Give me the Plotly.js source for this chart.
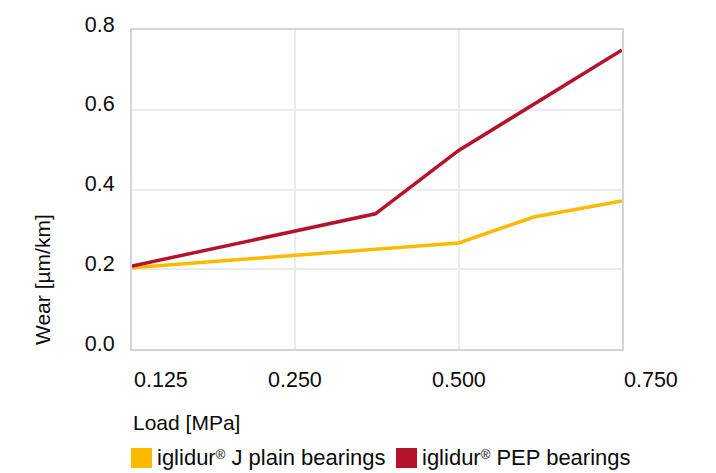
<!DOCTYPE html>
<html>
<head>
<meta charset="utf-8">
<script src="https://cdn.plot.ly/plotly-3.0.1.min.js"></script>
<style>html,body{margin:0;padding:0;background:#fff;}#chart{width:716px;height:473px;}</style>
</head>
<body>
<div id="chart"></div>
<script>
// ---- data ----
const xTickLabels = ['0.125', '0.250', '0.500', '0.750'];
const seriesNames = ['iglidur® J plain bearings', 'iglidur® PEP bearings'];
const jX = [0, 2, 2.46, 3];
const jWear = [0.204, 0.266, 0.331, 0.371];
const pepX = [0, 1.49, 2, 3];
const pepWear = [0.208, 0.339, 0.498, 0.75];
const yTicks = [0, 0.2, 0.4, 0.6, 0.8];

// ---- styling ----
const colJ = '#FBBA00';
const colPEP = '#B5132B';
const font = 'Liberation Sans, Arial, Helvetica, sans-serif';
const txt = '#0a0a0a';
const W = 716, H = 473;
const L = 132, R = 622, T = 30, B = 349;
const pw = R - L, ph = B - T;
const px = v => (v - L) / pw;
const py = v => (B - v) / ph;
const fmtName = s => s.replace('®', '<span style="font-size:13px;baseline-shift:6px">®</span>');

const traces = [
  {x: jX, y: jWear, name: seriesNames[0], mode: 'lines', line: {color: colJ, width: 3.5}, showlegend: false, cliponaxis: false},
  {x: pepX, y: pepWear, name: seriesNames[1], mode: 'lines', line: {color: colPEP, width: 3.5}, showlegend: false, cliponaxis: false}
];

const labelShift = [29, 0, 0, 29];
const annotations = xTickLabels.map((t, i) => ({
  x: i, y: 0, xref: 'x', yref: 'y', text: t, showarrow: false,
  xanchor: 'center', yanchor: 'middle', xshift: labelShift[i], yshift: -31,
  font: {family: font, size: 21.5, color: txt}
}));
annotations.push({
  x: px(131), y: py(422), xref: 'paper', yref: 'paper', text: 'Load [MPa]', showarrow: false,
  xanchor: 'left', yanchor: 'middle', font: {family: font, size: 21, color: txt}
});
annotations.push({
  x: px(42), y: py(280), xref: 'paper', yref: 'paper', text: 'Wear [µm/km]', showarrow: false,
  textangle: -90, xanchor: 'center', yanchor: 'middle', font: {family: font, size: 21, color: txt}
});
// legend
const legendItems = [
  {color: colJ, sq: 131, tx: 155},
  {color: colPEP, sq: 396, tx: 420}
];
const shapes = [];
legendItems.forEach((it, i) => {
  shapes.push({type: 'rect', xref: 'paper', yref: 'paper', x0: px(it.sq), x1: px(it.sq + 21), y0: py(468), y1: py(448),
    fillcolor: it.color, line: {width: 0}});
  annotations.push({x: px(it.tx), y: py(458), xref: 'paper', yref: 'paper', text: fmtName(seriesNames[i]), showarrow: false,
    xanchor: 'left', yanchor: 'middle', font: {family: font, size: 22, color: txt}});
});

const layout = {
  width: W, height: H,
  margin: {l: L, r: W - R, t: T, b: H - B, pad: 0},
  paper_bgcolor: '#fff', plot_bgcolor: '#fff',
  showlegend: false,
  font: {family: font, size: 21, color: txt},
  xaxis: {
    range: [0, 3], tickvals: [0, 1, 2, 3], showticklabels: false,
    showgrid: true, gridcolor: '#ebebeb', gridwidth: 2,
    showline: true, mirror: true, linecolor: '#d4d4d4', linewidth: 2,
    zeroline: false, ticks: '', fixedrange: true
  },
  yaxis: {
    range: [0, 0.8], tickvals: yTicks, tickformat: '.1f',
    showgrid: true, gridcolor: '#ebebeb', gridwidth: 2,
    showline: true, mirror: true, linecolor: '#d4d4d4', linewidth: 2,
    zeroline: false, ticks: '', ticklabelstandoff: 11, ticklabelshift: -6,
    tickfont: {family: font, size: 21.5, color: txt}, fixedrange: true
  },
  annotations: annotations,
  shapes: shapes
};

Plotly.newPlot('chart', traces, layout, {displayModeBar: false, staticPlot: true});
</script>
</body>
</html>
